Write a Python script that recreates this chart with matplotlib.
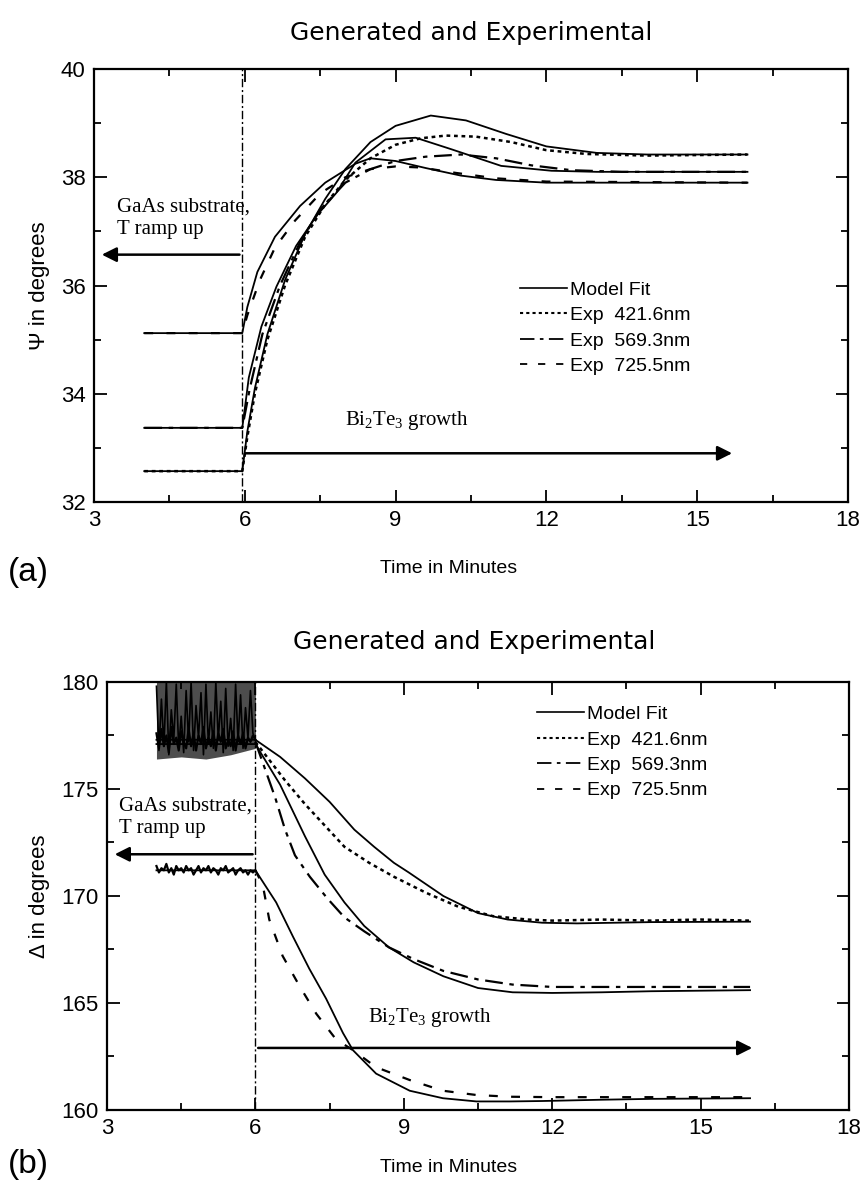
import matplotlib
matplotlib.use("Agg")
import matplotlib.pyplot as plt
from matplotlib.lines import Line2D
from matplotlib.ticker import MultipleLocator

plt.rcParams['font.family'] = ['Liberation Sans Narrow', 'Liberation Sans', 'DejaVu Sans']
plt.rcParams['mathtext.fontset'] = 'custom'
plt.rcParams['mathtext.rm'] = 'Liberation Serif'
plt.rcParams['mathtext.it'] = 'Liberation Serif:italic'

# ---------------- (a) Psi ----------------
psi_fit421_t = [4.0, 5.95, 6.05, 6.2, 6.45, 6.8, 7.2, 7.6, 8.0, 8.5, 9.0, 9.7, 10.4, 11.2, 12.0, 13.0, 14.0, 16.0]
psi_fit421 = [32.57, 32.57, 33.3, 34.1, 35.1, 36.1, 36.95, 37.6, 38.15, 38.65, 38.95, 39.14, 39.05, 38.8, 38.57, 38.45, 38.42, 38.42]
psi_exp421_t = [4.0, 5.95, 6.05, 6.2, 6.45, 6.8, 7.2, 7.6, 8.0, 8.5, 9.0, 9.5, 10.0, 10.6, 11.3, 12.0, 12.8, 14.0, 16.0]
psi_exp421 = [32.57, 32.57, 33.2, 34.0, 35.0, 36.0, 36.9, 37.5, 37.95, 38.35, 38.6, 38.72, 38.77, 38.75, 38.65, 38.5, 38.43, 38.4, 38.42]

psi_fit569_t = [4.0, 5.95, 6.08, 6.33, 6.63, 7.02, 7.42, 7.82, 8.2, 8.8, 9.4, 10.1, 11.1, 12.1, 13.0, 16.0]
psi_fit569 = [33.37, 33.37, 34.3, 35.24, 35.98, 36.73, 37.28, 37.71, 38.27, 38.7, 38.73, 38.52, 38.21, 38.12, 38.1, 38.1]
psi_exp569_t = [4.0, 5.95, 6.1, 6.35, 6.7, 7.1, 7.5, 8.0, 8.5, 9.0, 9.6, 10.3, 11.0, 11.7, 12.5, 13.5, 16.0]
psi_exp569 = [33.37, 33.37, 34.1, 35.1, 36.0, 36.8, 37.4, 37.9, 38.15, 38.3, 38.38, 38.42, 38.35, 38.22, 38.13, 38.1, 38.1]

psi_fit725_t = [4.0, 5.95, 6.05, 6.25, 6.6, 7.1, 7.6, 8.2, 8.5, 9.0, 9.6, 10.3, 11.0, 12.0, 16.0]
psi_fit725 = [35.12, 35.12, 35.6, 36.25, 36.9, 37.47, 37.9, 38.25, 38.35, 38.3, 38.17, 38.03, 37.95, 37.9, 37.9]
psi_exp725_t = [4.0, 5.95, 6.05, 6.3, 6.6, 7.0, 7.5, 8.0, 8.5, 9.0, 9.5, 10.2, 11.0, 12.0, 16.0]
psi_exp725 = [35.12, 35.12, 35.45, 36.1, 36.7, 37.2, 37.7, 38.0, 38.15, 38.2, 38.18, 38.08, 37.98, 37.92, 37.9]

# ---------------- (b) Delta ----------------
pre_t = [4.0, 4.05, 4.1, 4.15, 4.2, 4.25, 4.3, 4.35, 4.4, 4.45, 4.5, 4.55, 4.6, 4.65, 4.7, 4.75, 4.8, 4.85, 4.9, 4.95,
         5.0, 5.05, 5.1, 5.15, 5.2, 5.25, 5.3, 5.35, 5.4, 5.45, 5.5, 5.55, 5.6, 5.65, 5.7, 5.75, 5.8, 5.85, 5.9, 5.95, 6.0]
del_exp421_pre = [179.8, 176.8, 179.2, 177.0, 180.0, 176.6, 178.7, 177.3, 179.9, 176.9, 178.4, 176.7, 179.6, 177.2,
                  180.0, 176.8, 178.9, 177.4, 179.5, 176.6, 179.9, 177.1, 178.6, 176.9, 180.0, 177.3, 179.1, 176.7,
                  179.7, 177.0, 178.3, 176.8, 179.9, 177.2, 179.4, 176.9, 178.8, 177.4, 179.6, 177.6, 177.3]
del_exp569_pre = [177.6, 176.9, 177.8, 177.0, 177.5, 176.7, 177.9, 177.1, 177.4, 176.8, 177.7, 177.2, 176.9, 177.8,
                  177.0, 177.6, 176.8, 177.5, 177.1, 177.9, 176.9, 177.4, 177.0, 177.7, 176.8, 177.6, 177.2, 177.8,
                  176.9, 177.3, 177.0, 177.7, 176.8, 177.5, 177.1, 177.6, 176.9, 177.4, 177.2, 177.5, 177.3]
del_exp725_pre = [171.4, 171.1, 171.3, 171.2, 171.5, 171.1, 171.3, 171.0, 171.4, 171.2, 171.3, 171.1, 171.4, 171.2,
                  171.3, 171.0, 171.2, 171.4, 171.1, 171.3, 171.2, 171.4, 171.1, 171.3, 171.2, 171.0, 171.3, 171.2,
                  171.4, 171.1, 171.2, 171.3, 171.0, 171.2, 171.3, 171.1, 171.2, 171.0, 171.2, 171.1, 171.2]
# envelope of the noisy start-up band
band_t = [4.0, 4.5, 5.0, 5.5, 6.0]
band_lo = [176.4, 176.5, 176.4, 176.6, 176.9]
band_hi = [180.0, 180.0, 180.0, 180.0, 180.0]

del_exp421_t = [6.3, 6.6, 7.0, 7.4, 7.8, 8.3, 8.8, 9.45, 10.1, 10.8, 11.5, 12.0, 13.0, 14.0, 15.0, 16.0]
del_exp421 = [176.3, 175.4, 174.3, 173.3, 172.3, 171.55, 170.9, 170.15, 169.5, 169.06, 168.9, 168.85, 168.9, 168.85, 168.9, 168.85]
del_fit421_t = [4.0, 6.0, 6.5, 7.0, 7.5, 8.0, 8.4, 8.8, 9.1, 9.8, 10.5, 11.1, 11.8, 12.5, 14.0, 16.0]
del_fit421 = [177.3, 177.3, 176.5, 175.5, 174.4, 173.1, 172.3, 171.55, 171.1, 170.0, 169.2, 168.9, 168.75, 168.72, 168.78, 168.8]

del_exp569_t = [6.2, 6.4, 6.6, 6.8, 7.1, 7.45, 7.8, 8.2, 8.7, 9.2, 9.8, 10.5, 11.2, 12.0, 14.0, 16.0]
del_exp569 = [175.9, 174.6, 173.1, 171.9, 170.9, 169.9, 169.0, 168.35, 167.6, 167.05, 166.5, 166.1, 165.86, 165.75, 165.75, 165.75]
del_fit569_t = [4.0, 6.0, 6.5, 7.0, 7.4, 7.8, 8.2, 8.7, 9.2, 9.8, 10.5, 11.2, 12.0, 13.0, 14.0, 16.0]
del_fit569 = [177.1, 177.1, 175.2, 172.8, 171.0, 169.7, 168.6, 167.6, 166.9, 166.25, 165.7, 165.5, 165.47, 165.5, 165.55, 165.6]

del_exp725_t = [6.15, 6.28, 6.55, 6.89, 7.23, 7.63, 7.97, 8.44, 9.12, 9.79, 10.47, 11.14, 12.0, 14.0, 16.0]
del_exp725 = [170.5, 168.9, 167.2, 165.8, 164.5, 163.3, 162.8, 162.0, 161.4, 160.9, 160.7, 160.62, 160.6, 160.6, 160.6]
del_fit725_t = [4.0, 6.0, 6.42, 6.76, 7.09, 7.43, 7.77, 7.97, 8.44, 9.12, 9.79, 10.47, 11.14, 11.8, 13.0, 14.0, 16.0]
del_fit725 = [171.2, 171.2, 169.7, 168.1, 166.6, 165.2, 163.6, 162.8, 161.7, 160.9, 160.55, 160.4, 160.4, 160.42, 160.48, 160.52, 160.55]

legend_labels = ["Model Fit", "Exp  421.6nm", "Exp  569.3nm", "Exp  725.5nm"]
title_txt = "Generated and Experimental"

W, H = 866, 1189
fig = plt.figure(figsize=(W / 100, H / 100), dpi=100)

def px_axes(l, t, r, b):
    return fig.add_axes([l / W, 1 - b / H, (r - l) / W, (b - t) / H])

ax1 = px_axes(94, 69, 848, 502)
ax2 = px_axes(107, 682, 849, 1110)

s_dot = (0, (1.5, 1.5))
s_dashdot = (0, (8, 3, 2, 3))
s_dash = (0, (4, 6))

# (a)
ax1.plot(psi_fit421_t, psi_fit421, 'k-', lw=1.3)
ax1.plot(psi_fit569_t, psi_fit569, 'k-', lw=1.3)
ax1.plot(psi_fit725_t, psi_fit725, 'k-', lw=1.3)
ax1.plot(psi_exp421_t, psi_exp421, color='k', ls=s_dot, lw=1.8)
ax1.plot(psi_exp569_t, psi_exp569, color='k', ls=s_dashdot, lw=1.6)
ax1.plot(psi_exp725_t, psi_exp725, color='k', ls=s_dash, lw=1.6)
ax1.axvline(5.95, color='k', ls=(0, (6, 2, 1.5, 2)), lw=1.0)

ax1.annotate('', xy=(3.1, 36.57), xytext=(5.95, 36.57),
             arrowprops=dict(arrowstyle='-|>', color='k', lw=1.8, mutation_scale=22))
ax1.annotate('', xy=(15.75, 32.9), xytext=(5.95, 32.9),
             arrowprops=dict(arrowstyle='-|>', color='k', lw=1.8, mutation_scale=22))
ax1.text(3.45, 37.25, "GaAs substrate,\nT ramp up", family='Liberation Serif', fontsize=15,
         va='center', ha='left', linespacing=1.25)
ax1.text(8.0, 33.5, r"Bi$_2$Te$_3$ growth", family='Liberation Serif', fontsize=15, va='center')

ax1.set_xlim(3, 18)
ax1.set_ylim(32, 40)
ax1.xaxis.set_major_locator(MultipleLocator(3))
ax1.xaxis.set_minor_locator(MultipleLocator(1.5))
ax1.yaxis.set_major_locator(MultipleLocator(2))
ax1.yaxis.set_minor_locator(MultipleLocator(1))
ax1.set_ylabel("Ψ in degrees", fontsize=16, labelpad=8)
ax1.set_xlabel("Time in Minutes", fontsize=14)
ax1.xaxis.set_label_coords(0.47, -0.135)

# (b)
ax2.fill_between(band_t, band_lo, band_hi, color='0.3', lw=0)
ax2.plot(pre_t, del_exp421_pre, color='k', lw=1.2)
ax2.plot(pre_t, del_exp569_pre, color='k', lw=1.6)
ax2.plot(pre_t, del_exp725_pre, color='k', lw=1.6)
ax2.plot(del_fit421_t, del_fit421, 'k-', lw=1.3)
ax2.plot(del_fit569_t, del_fit569, 'k-', lw=1.3)
ax2.plot(del_fit725_t, del_fit725, 'k-', lw=1.3)
ax2.plot([6.0] + del_exp421_t, [177.2] + del_exp421, color='k', ls=s_dot, lw=1.8)
ax2.plot([6.0] + del_exp569_t, [177.2] + del_exp569, color='k', ls=s_dashdot, lw=1.6)
ax2.plot([6.0] + del_exp725_t, [171.2] + del_exp725, color='k', ls=s_dash, lw=1.6)
ax2.axvline(6.0, color='k', ls=(0, (6, 2, 1.5, 2)), lw=1.0)

ax2.annotate('', xy=(3.1, 171.95), xytext=(6.0, 171.95),
             arrowprops=dict(arrowstyle='-|>', color='k', lw=1.8, mutation_scale=22))
ax2.annotate('', xy=(16.1, 162.9), xytext=(6.0, 162.9),
             arrowprops=dict(arrowstyle='-|>', color='k', lw=1.8, mutation_scale=22))
ax2.text(3.25, 173.7, "GaAs substrate,\nT ramp up", family='Liberation Serif', fontsize=15,
         va='center', ha='left', linespacing=1.25)
ax2.text(8.27, 164.3, r"Bi$_2$Te$_3$ growth", family='Liberation Serif', fontsize=15, va='center')

ax2.set_xlim(3, 18)
ax2.set_ylim(160, 180)
ax2.xaxis.set_major_locator(MultipleLocator(3))
ax2.xaxis.set_minor_locator(MultipleLocator(1.5))
ax2.yaxis.set_major_locator(MultipleLocator(5))
ax2.yaxis.set_minor_locator(MultipleLocator(2.5))
ax2.set_ylabel("Δ in degrees", fontsize=16, labelpad=8)
ax2.set_xlabel("Time in Minutes", fontsize=14)
ax2.xaxis.set_label_coords(0.46, -0.115)

handles = [Line2D([], [], color='k', lw=1.2),
           Line2D([], [], color='k', ls=s_dot, lw=1.5),
           Line2D([], [], color='k', ls=s_dashdot, lw=1.3),
           Line2D([], [], color='k', ls=s_dash, lw=1.3)]
for ax, anchor in [(ax1, (0.565, 0.51)), (ax2, (0.58, 0.945))]:
    ax.legend(handles, legend_labels, loc='upper left', bbox_to_anchor=anchor, frameon=False,
              fontsize=14, handlelength=2.4, handletextpad=0.15, labelspacing=0.4, borderaxespad=0,
              borderpad=0)
    for sp in ax.spines.values():
        sp.set_linewidth(1.6)
    ax.tick_params(which='both', direction='in', top=True, right=True, labelsize=16, width=1.3)
    ax.tick_params(which='major', length=9, pad=6)
    ax.tick_params(which='minor', length=5)

fig.text(471 / W, 1 - 33 / H, title_txt, ha='center', va='center', fontsize=18, family='DejaVu Sans')
fig.text(474 / W, 1 - 642 / H, title_txt, ha='center', va='center', fontsize=18, family='DejaVu Sans')
fig.text(8 / W, 1 - 572 / H, "(a)", ha='left', va='center', fontsize=24, family='Liberation Sans')
fig.text(8 / W, 1 - 1165 / H, "(b)", ha='left', va='center', fontsize=24, family='Liberation Sans')

fig.savefig("out.png", dpi=100)
